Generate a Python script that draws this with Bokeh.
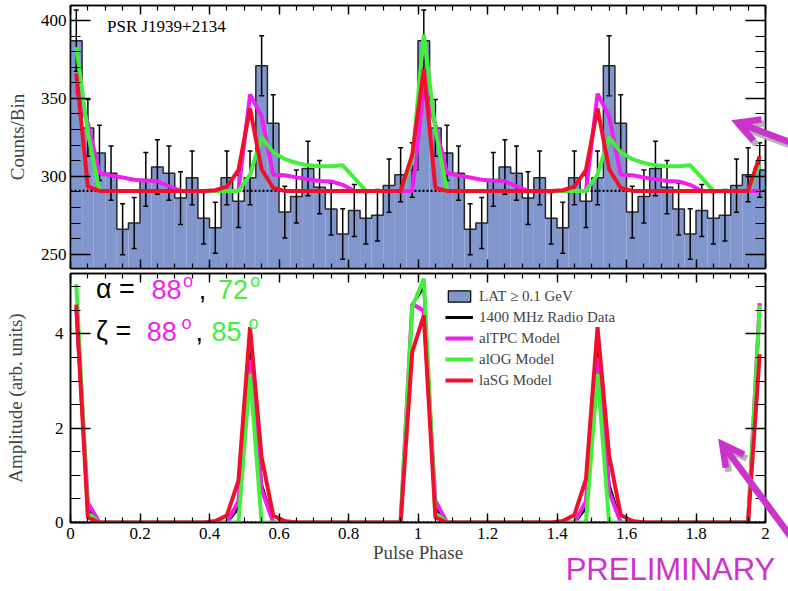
import math

from bokeh.core.properties import value
from bokeh.embed import file_html
from bokeh.layouts import column
from bokeh.models import (CustomJSTickFormatter, FixedTicker, Label, Legend,
                          LegendItem, LinearAxis, Range1d)
from bokeh.plotting import figure
from bokeh.resources import INLINE

# ---------------------------------------------------------------------------
# Data: PSR J1939+2134, 30 phase bins per rotation, two rotations shown
# ---------------------------------------------------------------------------
n_per_rot = 30
n_rot = 2

lat_counts = [
    387, 331, 315, 302, 266, 270, 298, 306, 302, 286,
    299, 273, 267, 299, 284, 299, 371, 334, 277, 287,
    305, 293, 279, 263, 278, 273, 275, 294, 301, 304,
    387, 331, 315, 302, 266, 270, 298, 306, 302, 286,
    299, 273, 267, 299, 284, 299, 371, 334, 277, 287,
    305, 293, 279, 263, 278, 273, 275, 294, 301, 304,
]

radio_level = 290.6  # radio profile baseline, scaled to the counts panel

altpc_counts = [
    355.5, 334, 302, 300.5, 299.2, 297.8, 297.2, 296.8, 293.6, 290.6,
    290.6, 290.6, 290.6, 290.6, 290.6, 352.5, 338.5, 301, 300.6, 299.3,
    298, 297, 296.7, 294.5, 290.6, 290.6, 290.6, 290.6, 290.6, 290.6,
    356, 333, 302, 300.5, 299.2, 297.8, 297.2, 296.8, 293.6, 290.6,
    290.6, 290.6, 290.6, 290.6, 290.6, 353, 338.5, 301, 300.6, 299.3,
    298, 297, 296.7, 294.5, 290.6, 290.6, 290.6, 290.6, 290.6, 290.6,
]

alog_counts = [
    383, 328, 290.6, 290.6, 290.6, 290.6, 290.6, 290.6, 290.6, 290.6,
    290.6, 290.6, 290.6, 290.6, 290.6, 301, 325, 315.5, 311, 308.5,
    307, 306.5, 306.5, 307, 299, 290.6, 290.6, 290.6, 290.6, 310,
    391, 330, 290.6, 290.6, 290.6, 290.6, 290.6, 290.6, 290.6, 290.6,
    290.6, 290.6, 290.6, 290.6, 290.6, 301, 325, 315.5, 311, 308.5,
    307, 306.5, 306.5, 307, 299, 290.6, 290.6, 290.6, 290.6, 307.5,
]

lasg_counts = [
    366, 293.3, 290.6, 290.6, 290.6, 290.6, 290.6, 290.6, 290.6, 290.6,
    290.6, 290.6, 291, 293.3, 304, 343.6, 304.5, 292.5, 290.6, 290.6,
    290.6, 290.6, 290.6, 290.6, 290.6, 290.6, 290.6, 290.6, 290.6, 313.7,
    369, 292.5, 290.6, 290.6, 290.6, 290.6, 290.6, 290.6, 290.6, 290.6,
    290.6, 290.6, 291, 293.3, 304, 343.6, 304.5, 292.5, 290.6, 290.6,
    290.6, 290.6, 290.6, 290.6, 290.6, 290.6, 290.6, 290.6, 290.6, 313,
]

radio_amp = [
    4.5, 0.3, 0, 0, 0, 0, 0, 0, 0, 0,
    0, 0, 0, 0, 0.3, 3.7, 0.8, 0, 0, 0,
    0, 0, 0, 0, 0, 0, 0, 0, 0, 4.62,
    5.0, 0.3, 0, 0, 0, 0, 0, 0, 0, 0,
    0, 0, 0, 0, 0.3, 3.7, 0.8, 0, 0, 0,
    0, 0, 0, 0, 0, 0, 0, 0, 0, 4.6,
]

altpc_amp = [
    4.55, 0.42, 0, 0, 0, 0, 0, 0, 0, 0,
    0, 0, 0, 0, 0.45, 3.45, 0.7, 0, 0, 0,
    0, 0, 0, 0, 0, 0, 0, 0, 0, 4.64,
    4.49, 0.46, 0, 0, 0, 0, 0, 0, 0, 0,
    0, 0, 0, 0, 0.45, 3.5, 0.65, 0, 0, 0,
    0, 0, 0, 0, 0, 0, 0, 0, 0, 4.65,
]

alog_amp = [
    5.06, 0.2, 0, 0, 0, 0, 0, 0, 0, 0,
    0, 0, 0, 0, 0, 3.15, 0, 0, 0, 0,
    0, 0, 0, 0, 0, 0, 0, 0, 0, 4.57,
    5.17, 0.2, 0, 0, 0, 0, 0, 0, 0, 0,
    0, 0, 0, 0, 0, 3.15, 0, 0, 0, 0,
    0, 0, 0, 0, 0, 0, 0, 0, 0, 4.6,
]

lasg_amp = [
    4.62, 0.11, 0, 0, 0, 0, 0, 0, 0, 0,
    0, 0, 0.03, 0.15, 0.89, 4.14, 1.38, 0.15, 0.03, 0,
    0, 0, 0, 0, 0, 0, 0, 0, 0, 3.61,
    4.39, 0.11, 0, 0, 0, 0, 0, 0, 0, 0,
    0, 0, 0.03, 0.16, 0.92, 4.14, 1.42, 0.16, 0.03, 0,
    0, 0, 0, 0, 0, 0, 0, 0, 0, 3.57,
]

x_tick_values = [0, 0.2, 0.4, 0.6, 0.8, 1.0, 1.2, 1.4, 1.6, 1.8, 2.0]
counts_tick_values = [250, 300, 350, 400]
amp_tick_values = [0, 2, 4]

legend_labels = ["LAT \u2265 0.1 GeV", "1400 MHz Radio Data", "alTPC Model",
                 "alOG Model", "laSG Model"]

# ---------------------------------------------------------------------------
# Styling / geometry
# ---------------------------------------------------------------------------
BLUE = "#8096cc"
MAGENTA = "#f01ef0"
GREEN = "#44ee3c"
RED = "#f0102d"
NOTE = "#cc33cc"
SHADOW = "#b4b4b4"
SERIF = "Liberation Serif"
SANS = "Liberation Sans"

WIDTH = 788
BORDER_L, BORDER_R = 70, 23
TOP_H, TOP_BT, TOP_BB = 270, 5, 2
BOT_H, BOT_BT, BOT_BB = 321, 3, 69
BASELINE_LIFT = 0.35  # em fraction: svg text with an alphabetic baseline sits a bit low

n_bins = n_per_rot * n_rot
left = [i / n_per_rot for i in range(n_bins)]
right = [(i + 1) / n_per_rot for i in range(n_bins)]
centers = [(i + 0.5) / n_per_rot for i in range(n_bins)]
err = [math.sqrt(c) for c in lat_counts]
err_lo = [c - e for c, e in zip(lat_counts, err)]
err_hi = [c + e for c, e in zip(lat_counts, err)]

x_minor = [round(i * 0.05, 2) for i in range(41)]
counts_minor = list(range(240, 411, 10))
amp_minor = [i * 0.5 for i in range(11)]
counts_range = (240.8, 409.6)
amp_range = (0, 5.28)

x_range = Range1d(0, 2)
phase_fmt = "return (Math.round(tick * 10) / 10).toString();"


def style_axis(ax, major_in, minor_in, labels=True, font_size="17px", standoff=5):
    ax.axis_line_color = "black"
    ax.axis_line_width = 1.5
    ax.major_tick_in = major_in
    ax.major_tick_out = 0
    ax.minor_tick_in = minor_in
    ax.minor_tick_out = 0
    ax.major_tick_line_width = 1.4
    ax.minor_tick_line_width = 1.2
    ax.major_tick_line_color = "black"
    ax.minor_tick_line_color = "black"
    if labels:
        ax.major_label_text_font = SERIF
        ax.major_label_text_font_size = font_size
        ax.major_label_standoff = standoff
        ax.major_label_text_color = "black"
    else:
        ax.major_label_text_font_size = "0px"
        ax.major_label_text_color = None
        ax.major_label_standoff = 0


def tick_only_axis(ticker, major_in, minor_in):
    ax = LinearAxis(ticker=ticker)
    style_axis(ax, major_in, minor_in, labels=False)
    return ax


def make_panel(height, y_range, border_top, border_bottom):
    p = figure(width=WIDTH, height=height, x_range=x_range,
               y_range=Range1d(*y_range), output_backend="svg",
               toolbar_location=None, min_border_left=BORDER_L,
               min_border_right=BORDER_R, min_border_top=border_top,
               min_border_bottom=border_bottom)
    p.grid.visible = False
    p.outline_line_color = "black"
    p.outline_line_width = 1.5
    p.background_fill_color = "white"
    p.border_fill_color = "white"
    return p


def lifted(y, size_px, ky):
    """Baseline position in data units, nudged up to sit on the intended line."""
    return y + BASELINE_LIFT * size_px / ky


def draw_arrow(p, tail, tip, kx, ky, color, arm=24.0, half_angle=28.0, width=6.5):
    """Open-headed arrow drawn as overlay lines so it may run past the frame."""
    tx, ty = tip
    bx, by = tail
    ang = math.atan2((by - ty) * ky, (bx - tx) * kx)
    ends = []
    for s in (1, -1):
        a = ang + s * math.radians(half_angle)
        ends.append((tx + arm * math.cos(a) / kx, ty + arm * math.sin(a) / ky))
    xs = [[bx, tx], [ends[0][0], tx, ends[1][0]]]
    ys = [[by, ty], [ends[0][1], ty, ends[1][1]]]
    p.multi_line(xs=xs, ys=ys, line_color=color, line_width=width,
                 line_join="miter", line_cap="butt", level="overlay")


def arrow_with_shadow(p, tail, tip, kx, ky):
    sx, sy = 3.0 / kx, -4.0 / ky
    draw_arrow(p, (tail[0] + sx, tail[1] + sy), (tip[0] + sx, tip[1] + sy),
               kx, ky, SHADOW)
    draw_arrow(p, tail, tip, kx, ky, NOTE)


# ---------------------------------------------------------------------------
# Upper panel: LAT counts with model light curves
# ---------------------------------------------------------------------------
top = make_panel(TOP_H, counts_range, TOP_BT, TOP_BB)
top_kx = (WIDTH - BORDER_L - BORDER_R) / 2.0
top_ky = (TOP_H - TOP_BT - TOP_BB) / (counts_range[1] - counts_range[0])

top.xaxis.ticker = FixedTicker(ticks=x_tick_values, minor_ticks=x_minor)
top.yaxis.ticker = FixedTicker(ticks=counts_tick_values, minor_ticks=counts_minor)
style_axis(top.xaxis[0], 9, 5, labels=False)
style_axis(top.yaxis[0], 20, 10, standoff=4)
top.yaxis.axis_label = "Counts/Bin"
top.yaxis.axis_label_text_font = SERIF
top.yaxis.axis_label_text_font_size = "19px"
top.yaxis.axis_label_text_font_style = "normal"
top.yaxis.axis_label_standoff = 10
top.add_layout(tick_only_axis(FixedTicker(ticks=x_tick_values, minor_ticks=x_minor), 9, 5), "above")
top.add_layout(tick_only_axis(FixedTicker(ticks=counts_tick_values,
                                          minor_ticks=counts_minor), 20, 10), "right")

hist = top.quad(left=left, right=right, bottom=counts_range[0], top=lat_counts,
                fill_color=BLUE, line_color=None)
top.step(x=left + [2.0], y=lat_counts + [lat_counts[-1]], mode="after",
         line_color="#262626", line_width=1.5)
top.segment(x0=centers, y0=err_lo, x1=centers, y1=err_hi,
            line_color="black", line_width=1.5)
top.scatter(x=centers + centers, y=err_lo + err_hi, marker="dash", size=5,
            line_color="black", line_width=1.5)
top.line([0, 2], [radio_level, radio_level], line_color="black",
         line_width=2.2, line_dash="2 2")
top.line(centers, altpc_counts, line_color=MAGENTA, line_width=4)
top.line(centers, alog_counts, line_color=GREEN, line_width=4)
top.line(centers, lasg_counts, line_color=RED, line_width=4)

top.add_layout(Label(x=0.105, y=lifted(392.3, 17, top_ky), text="PSR J1939+2134",
                     text_font=SERIF, text_font_size="17px", text_color="black",
                     text_baseline="alphabetic"))
arrow_with_shadow(top, (2.129, 316.9), (1.9199, 334.4), top_kx, top_ky)

# ---------------------------------------------------------------------------
# Lower panel: radio profile and model pulse profiles
# ---------------------------------------------------------------------------
bot = make_panel(BOT_H, amp_range, BOT_BT, BOT_BB)
bot_kx = (WIDTH - BORDER_L - BORDER_R) / 2.0
bot_ky = (BOT_H - BOT_BT - BOT_BB) / (amp_range[1] - amp_range[0])

bot.xaxis.ticker = FixedTicker(ticks=x_tick_values, minor_ticks=x_minor)
bot.xaxis.formatter = CustomJSTickFormatter(code=phase_fmt)
bot.yaxis.ticker = FixedTicker(ticks=amp_tick_values, minor_ticks=amp_minor)
style_axis(bot.xaxis[0], 9, 5, standoff=5)
style_axis(bot.yaxis[0], 20, 10, standoff=7)
bot.xaxis.axis_label = "Pulse Phase"
bot.xaxis.axis_label_text_font = SERIF
bot.xaxis.axis_label_text_font_size = "19px"
bot.xaxis.axis_label_text_font_style = "normal"
bot.xaxis.axis_label_standoff = 0
bot.yaxis.axis_label = "Amplitude (arb. units)"
bot.yaxis.axis_label_text_font = SERIF
bot.yaxis.axis_label_text_font_size = "19px"
bot.yaxis.axis_label_text_font_style = "normal"
bot.yaxis.axis_label_standoff = 26
bot.add_layout(tick_only_axis(FixedTicker(ticks=x_tick_values, minor_ticks=x_minor), 9, 5), "above")
bot.add_layout(tick_only_axis(FixedTicker(ticks=amp_tick_values,
                                          minor_ticks=amp_minor), 20, 10), "right")

# legend key for the LAT histogram (filled box with dark outline)
lat_key = bot.quad(left=left, right=right, bottom=amp_range[0], top=lat_counts,
                   fill_color=BLUE, line_color="black", line_width=1.2,
                   visible=False)
bot.line([0, 2], [0, 0], line_color="black", line_width=2.5, line_dash="2 2")
r_radio = bot.line(centers, radio_amp, line_color="black", line_width=3)
r_altpc = bot.line(centers, altpc_amp, line_color=MAGENTA, line_width=4)
r_alog = bot.line(centers, alog_amp, line_color=GREEN, line_width=4)
r_lasg = bot.line(centers, lasg_amp, line_color=RED, line_width=4)

legend = Legend(items=[LegendItem(label=lab, renderers=[r]) for lab, r in
                       zip(legend_labels, [lat_key, r_radio, r_altpc, r_alog, r_lasg])],
                location=(375, 132), label_text_font=SERIF, label_text_font_size="15px",
                glyph_width=28, glyph_height=14, label_standoff=6, spacing=1,
                label_height=20, padding=0, margin=0, border_line_color=None,
                background_fill_alpha=0)
bot.add_layout(legend)

# viewing-geometry annotation: alTPC angles in magenta, alOG angles in green
geometry = [
    # (text, x, baseline y, colour, size in px)
    ("\u03b1 =", 0.0733, 4.743, "black", 27),
    ("88", 0.2329, 4.743, MAGENTA, 27),
    ("o", 0.3235, 4.99, MAGENTA, 18),
    (",", 0.3689, 4.743, "black", 27),
    ("72", 0.4242, 4.743, GREEN, 27),
    ("o", 0.5176, 4.99, GREEN, 18),
    ("\u03b6 =", 0.0733, 3.858, "black", 27),
    ("88", 0.2191, 3.858, MAGENTA, 27),
    ("o", 0.3192, 4.104, MAGENTA, 18),
    (",", 0.3595, 3.858, "black", 27),
    ("85", 0.4060, 3.858, GREEN, 27),
    ("o", 0.5119, 4.104, GREEN, 18),
]
for txt, gx, gy, col, fs in geometry:
    bot.add_layout(Label(x=gx, y=lifted(gy, fs, bot_ky), text=txt, text_font=SANS,
                         text_font_size=f"{fs}px", text_color=col,
                         text_baseline="alphabetic"))

arrow_with_shadow(bot, (2.115, -0.721), (1.8755, 1.662), bot_kx, bot_ky)
bot.text(x=[1.425], y=[lifted(-1.236, 31, bot_ky)], text=["PRELIMINARY"],
         text_font=value(SANS), text_font_size="31px", text_color=NOTE,
         text_baseline="alphabetic", level="overlay")

layout = column(top, bot, spacing=0)
open("out.html", "w").write(file_html(layout, INLINE))
